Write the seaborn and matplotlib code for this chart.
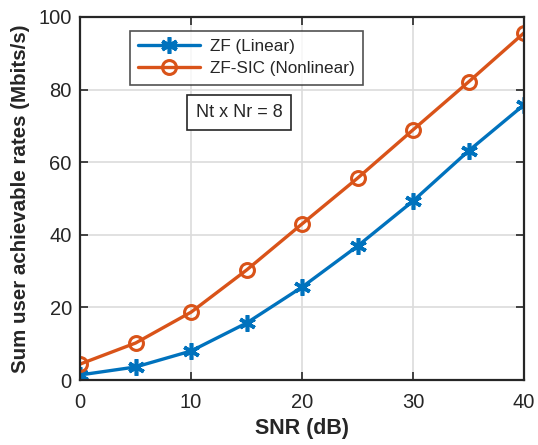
import pandas as pd
import matplotlib
matplotlib.use('Agg')
import matplotlib.pyplot as plt
import seaborn as sns

# chart values
snr = [0, 5, 10, 15, 20, 25, 30, 35, 40]
zf_linear = [1.4, 3.6, 8.0, 15.7, 25.6, 36.9, 49.3, 63.1, 75.8]
zf_sic = [4.4, 10.2, 18.7, 30.3, 43.0, 55.6, 68.9, 82.1, 95.6]
labels = ['ZF (Linear)', 'ZF-SIC (Nonlinear)']

df_zf = pd.DataFrame({'SNR': snr, 'Rate': zf_linear})
df_sic = pd.DataFrame({'SNR': snr, 'Rate': zf_sic})

sns.set_style('ticks')
plt.rcParams['font.family'] = ['Liberation Sans', 'DejaVu Sans']

fig = plt.figure(figsize=(5.38, 4.45), dpi=100)
ax = fig.add_axes([0.149, 0.146, 0.825, 0.816])

blue, orange = '#0072BD', '#D95319'
sns.lineplot(data=df_zf, x='SNR', y='Rate', color=blue, label=labels[0],
             marker=(6, 2, 0), linewidth=2.4, markersize=12,
             markeredgewidth=2.6, markeredgecolor=blue, ax=ax)
sns.lineplot(data=df_sic, x='SNR', y='Rate', color=orange, label=labels[1],
             marker='o', linewidth=2.4, markersize=10, markeredgewidth=2.2,
             markerfacecolor='none', markeredgecolor=orange, ax=ax)

ax.set_xlim(0, 40)
ax.set_ylim(0, 100)
ax.set_xticks([0, 10, 20, 30, 40])
ax.set_yticks([0, 20, 40, 60, 80, 100])
ax.grid(True, color='#dcdcdc', linewidth=1.2)
ax.tick_params(direction='in', length=6, width=1.2, top=True, right=True,
               labelsize=14.5, colors='#262626', pad=9)
ax.tick_params(axis='y', pad=6)
for s in ax.spines.values():
    s.set_linewidth(1.6)
    s.set_color('#262626')

ax.set_xlabel('SNR (dB)', fontsize=15.5, fontweight='bold', labelpad=5)
ax.set_ylabel('Sum user achievable rates (Mbits/s)', fontsize=14.8,
              fontweight='bold', labelpad=6)

leg = ax.legend(loc='upper left', bbox_to_anchor=(0.112, 0.962), fontsize=12.3,
                frameon=True, fancybox=False, edgecolor='#262626',
                handlelength=3.6, borderpad=0.5, labelspacing=0.4,
                handletextpad=0.6, borderaxespad=0)
leg.get_frame().set_linewidth(1.2)

ax.text(0.26, 0.738, 'Nt x Nr = 8', transform=ax.transAxes, fontsize=13,
        va='center', ha='left',
        bbox=dict(boxstyle='square,pad=0.5', fc='white', ec='#262626', lw=1.2))

fig.savefig('out.png', dpi=100)
